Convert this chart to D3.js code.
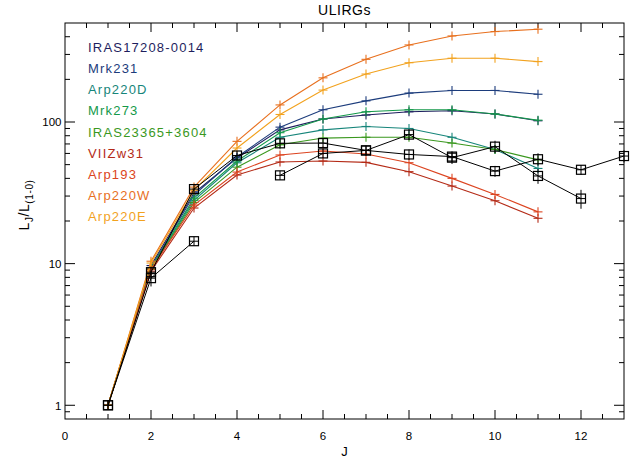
<!DOCTYPE html>
<html><head><meta charset="utf-8">
<script src="https://cdn.jsdelivr.net/npm/d3@7"></script>
<style>body{margin:0;background:#fff}svg{display:block;font-family:"Liberation Sans",Arial,sans-serif}</style>
</head><body><svg id="c" width="632" height="460"></svg>
<script>
const J = [1,2,3,4,5,6,7,8,9,10,11];
const seriesNames = ["IRAS17208-0014","Mrk231","Arp220D","Mrk273","IRAS23365+3604","VIIZw31","Arp193","Arp220W","Arp220E"];
const seriesColors = ["#1e1e5e","#1c3c7c","#16857a","#14994a","#3a981e","#b42a16","#dc4420","#e8701e","#f2a21e"];
const IRAS17208 = [1, 9.7, 31.5, 55.7, 88, 105, 112, 118, 120, 114, 102];
const Mrk231    = [1, 9.4, 30.5, 56.6, 92, 122, 141, 160, 167, 167, 157];
const Arp220D   = [1, 9.2, 28, 51.5, 78, 88, 93, 90, 78, 64, 47];
const Mrk273    = [1, 9.3, 29, 53, 84, 105, 118, 122, 122, 114, 103];
const IRAS23365 = [1, 9.1, 27, 48, 69, 77, 78, 78, 71, 64, 54];
const VIIZw31   = [1, 8.85, 24.7, 42.2, 52.2, 53, 51.9, 44.6, 35.3, 27.8, 20.9];
const Arp193    = [1, 9.15, 25.9, 44.3, 58.5, 62.4, 59.4, 51.6, 40, 30.8, 23.2];
const Arp220W   = [1, 10.4, 34.7, 73, 132, 205, 277, 350, 405, 435, 452];
const Arp220E   = [1, 10.1, 33, 65.5, 113, 168, 218, 262, 282, 282, 267];
const seriesValues = [IRAS17208, Mrk231, Arp220D, Mrk273, IRAS23365, VIIZw31, Arp193, Arp220W, Arp220E];

const obsJA = [1,2,3,4,5,6,7,8,9,10,11,12,13];
const obsA  = [1, 8.7, 33.6, 58, 70.7, 71, 63, 59, 57, 45, 54.6, 46, 57.5];
const errA  = [0, 0.8, 2, 3, 4, 4, 5, 5, 5, 4, 5.5, 3.7, 5.7];
const obsJB = [1,2,3,4,5,6,7,8,9,10,11,12];
const obsB  = [1, 7.9, 14.4, null, 42, 60, 63, 81.5, 56, 67, 41.6, 28.8];
const errB  = [0, 1.0, 1, null, 3, 4, 5, 7, 5.5, 6.7, 5, 4.4];

const xTicks = [0,2,4,6,8,10,12];
const yTicks = [1,10,100];

const svg = d3.select("#c");
const L=65, R=624, T=23, B=419;
const x = d3.scaleLinear().domain([0,13]).range([L,R]);
const y = d3.scaleLog().domain([0.8,500]).range([B,T]);

// frame
svg.append("rect").attr("x",L).attr("y",T).attr("width",R-L).attr("height",B-T)
  .attr("fill","none").attr("stroke","#000").attr("stroke-width",1);

const xMinor = d3.range(0.5,13,0.5).filter(v=>v%2!==0);
const ax = svg.append("g").attr("stroke","#000").attr("stroke-width",1);
xTicks.forEach(v=>{
  if(v===0) return;
  ax.append("line").attr("x1",x(v)).attr("x2",x(v)).attr("y1",B).attr("y2",B-9);
  ax.append("line").attr("x1",x(v)).attr("x2",x(v)).attr("y1",T).attr("y2",T+9);
});
xMinor.forEach(v=>{
  ax.append("line").attr("x1",x(v)).attr("x2",x(v)).attr("y1",B).attr("y2",B-5);
  ax.append("line").attr("x1",x(v)).attr("x2",x(v)).attr("y1",T).attr("y2",T+5);
});
const yMinor = [];
[0.1,1,10,100].forEach(d=>{for(let k=2;k<=9;k++){const v=d*k; if(v>0.8&&v<500&&!yTicks.includes(v)) yMinor.push(v);}});
yTicks.forEach(v=>{
  ax.append("line").attr("x1",L).attr("x2",L+10).attr("y1",y(v)).attr("y2",y(v));
  ax.append("line").attr("x1",R).attr("x2",R-10).attr("y1",y(v)).attr("y2",y(v));
});
yMinor.forEach(v=>{
  ax.append("line").attr("x1",L).attr("x2",L+5).attr("y1",y(v)).attr("y2",y(v));
  ax.append("line").attr("x1",R).attr("x2",R-5).attr("y1",y(v)).attr("y2",y(v));
});

xTicks.forEach(v=>{
  svg.append("text").attr("x",x(v)).attr("y",439.5).attr("text-anchor","middle")
    .attr("font-size",11.5).attr("fill","#000").text(v);
});
yTicks.forEach(v=>{
  svg.append("text").attr("x",61.5).attr("y",y(v)+4.3).attr("text-anchor","end")
    .attr("font-size",11.5).attr("fill","#000").text(v);
});
svg.append("text").attr("x",(L+R)/2).attr("y",456).attr("text-anchor","middle")
  .attr("font-size",13).text("J");
const yl = svg.append("text").attr("transform",`translate(29,205) rotate(-90)`)
  .attr("text-anchor","middle").attr("font-size",14).attr("letter-spacing",0.6);
yl.append("tspan").text("L");
yl.append("tspan").attr("font-size",10).attr("dy",4).text("J");
yl.append("tspan").attr("dy",-4).text("/L");
yl.append("tspan").attr("font-size",10).attr("dy",4).text("(1-0)");
svg.append("text").attr("x",(L+R)/2).attr("y",15).attr("text-anchor","middle")
  .attr("font-size",14).attr("letter-spacing",0.5).text("ULIRGs");

const line = d3.line().defined(d=>d[1]!=null).x(d=>x(d[0])).y(d=>y(d[1]));
seriesValues.forEach((vals,i)=>{
  const pts = J.map((j,k)=>[j,vals[k]]);
  const g = svg.append("g").attr("stroke",seriesColors[i]).attr("fill","none").attr("stroke-width",1.1);
  g.append("path").attr("d",line(pts));
  pts.forEach(p=>{
    const cx=x(p[0]), cy=y(p[1]);
    g.append("line").attr("x1",cx-4.5).attr("x2",cx+4.5).attr("y1",cy).attr("y2",cy);
    g.append("line").attr("x1",cx).attr("x2",cx).attr("y1",cy-4.5).attr("y2",cy+4.5);
  });
});

function obs(js, vals, errs){
  const pts = js.map((j,k)=>[j,vals[k],errs[k]]);
  const g = svg.append("g").attr("stroke","#000").attr("fill","none").attr("stroke-width",1);
  g.append("path").attr("d",line(pts));
  pts.filter(p=>p[1]!=null).forEach(p=>{
    const cx=x(p[0]), cy=y(p[1]);
    g.append("rect").attr("x",cx-4.5).attr("y",cy-4.5).attr("width",9).attr("height",9).attr("stroke-width",1.2);
    g.append("line").attr("x1",cx-4.5).attr("x2",cx+4.5).attr("y1",cy).attr("y2",cy);
    const lo = y(Math.max(p[1]-p[2],0.81)), hi = y(p[1]+p[2]);
    g.append("line").attr("x1",cx).attr("x2",cx).attr("y1",Math.min(hi,cy-4.5)).attr("y2",Math.max(lo,cy+4.5));
  });
}
obs(obsJA, obsA, errA);
obs(obsJB, obsB, errB);

seriesNames.forEach((n,i)=>{
  svg.append("text").attr("x",88).attr("y",47+21.2*i+4.8).attr("font-size",13)
    .attr("letter-spacing",1.2).attr("fill",seriesColors[i]).text(n);
});
</script></body></html>
